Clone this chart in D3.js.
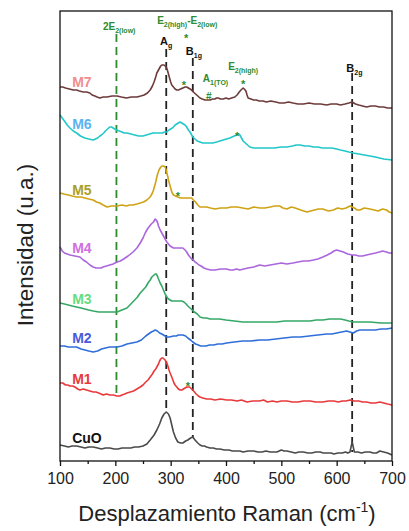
<!DOCTYPE html>
<html><head><meta charset="utf-8">
<script src="https://cdn.jsdelivr.net/npm/d3@7"></script>
<style>body{margin:0;background:#fff}svg{display:block;font-family:"Liberation Sans",Arial,sans-serif}</style>
</head><body><svg id="c" width="409" height="531"></svg>
<script>
// ---- data (wavenumber cm^-1, intensity a.u. incl. offset) ----
const xTicks = [100,200,300,400,500,600,700];
const xMinorTicks = [150,250,350,450,550,650];
const cuo = [[100,16],[108,15],[115,14],[122,15],[130,15],[138,14],[145,13],[152,14],[160,14],[168,13],[175,12],[182,13],[190,13],[198,12],[205,12],[212,13],[220,13],[228,13],[235,14],[242,14],[250,15],[257,17],[263,21],[270,26],[275,31],[280,37],[284,43],[288,47],[292,49],[296,47],[299,43],[302,36],[305,29],[309,23],[313,19],[318,18],[322,18],[327,20],[331,21],[336,23],[340,24],[344,21],[349,18],[353,16],[357,15],[361,15],[365,14],[371,13],[377,13],[383,12],[389,12],[397,11],[405,11],[412,10],[420,10],[425,10],[431,9],[440,10],[450,10],[458,9],[465,9],[472,10],[480,9],[486,9],[492,9],[500,11],[505,10],[510,10],[518,9],[525,8],[532,9],[540,9],[548,8],[555,8],[562,9],[570,9],[576,8],[582,8],[590,8],[595,7],[602,8],[610,8],[616,9],[620,8],[624,9],[628,19],[632,9],[638,9],[645,8],[652,9],[660,9],[666,8],[672,8],[678,10],[685,9],[692,8],[700,6]];
const m1 = [[100,78],[105,78],[110,76],[114,76],[118,75],[123,75],[127,74],[132,72],[136,71],[142,72],[148,71],[154,70],[160,69],[165,69],[170,68],[174,67],[178,66],[184,67],[190,66],[196,66],[203,65],[208,65],[212,66],[217,67],[221,68],[227,69],[233,70],[239,72],[245,74],[250,76],[255,79],[259,81],[263,84],[267,87],[270,90],[273,92],[275,94],[278,97],[280,100],[282,102],[284,103],[286,103],[288,102],[290,101],[293,98],[295,95],[297,91],[299,88],[302,84],[304,81],[306,78],[308,76],[311,74],[314,72],[317,71],[320,71],[323,72],[326,73],[329,74],[331,74],[334,74],[336,73],[338,72],[340,71],[343,69],[346,67],[350,65],[353,64],[358,63],[365,62],[372,62],[380,61],[390,62],[401,61],[410,61],[420,60],[428,61],[438,59],[448,60],[460,60],[468,61],[475,59],[484,60],[492,59],[500,60],[510,60],[520,59],[530,59],[540,60],[552,60],[562,59],[575,59],[585,60],[595,60],[603,59],[610,60],[617,60],[624,61],[632,60],[640,60],[647,59],[654,59],[662,58],[670,58],[678,59],[685,58],[692,57],[700,56]];
const m2 = [[100,115],[108,115],[115,114],[122,114],[130,114],[138,112],[145,111],[152,110],[160,109],[168,110],[175,112],[182,113],[190,114],[196,114],[203,114],[212,115],[221,117],[230,118],[239,119],[247,121],[255,125],[260,127],[265,129],[269,130],[272,131],[276,130],[280,128],[284,127],[287,126],[290,125],[293,124],[298,124],[305,125],[310,125],[314,126],[318,126],[322,126],[327,125],[331,123],[336,121],[340,119],[345,117],[350,116],[354,115],[358,115],[364,115],[370,116],[378,116],[385,117],[393,117],[401,118],[415,119],[430,120],[445,120],[461,121],[475,121],[490,122],[505,123],[521,124],[535,124],[550,125],[566,126],[582,127],[591,127],[600,128],[609,129],[618,130],[624,129],[630,128],[636,130],[642,131],[651,131],[660,131],[670,131],[680,132],[690,132],[700,133]];
const m3 = [[100,158],[108,157],[115,156],[122,155],[130,154],[138,153],[145,152],[152,151],[160,150],[170,149],[180,149],[192,149],[203,149],[212,151],[221,153],[228,157],[235,161],[240,164],[245,168],[250,171],[255,174],[259,178],[263,181],[266,184],[268,185],[270,186],[272,187],[274,187],[276,185],[278,182],[281,178],[284,175],[287,171],[290,167],[293,164],[296,162],[299,161],[302,160],[305,160],[309,160],[313,160],[317,160],[320,160],[324,159],[328,157],[331,155],[335,153],[339,151],[343,149],[348,147],[353,144],[359,143],[365,143],[371,142],[377,142],[388,142],[400,141],[415,140],[431,139],[445,139],[460,139],[476,139],[492,139],[506,140],[520,140],[536,140],[552,140],[563,141],[575,141],[587,142],[600,142],[607,142],[615,141],[622,140],[630,139],[645,139],[660,139],[680,138],[700,138]];
const m4 = [[100,214],[104,210],[108,208],[113,207],[118,206],[127,205],[136,204],[142,201],[148,199],[154,196],[160,194],[165,193],[170,193],[174,193],[178,194],[184,195],[190,196],[196,197],[203,199],[209,200],[215,202],[223,205],[232,209],[239,213],[245,218],[250,223],[254,228],[258,232],[262,235],[265,237],[269,239],[272,242],[274,241],[276,239],[278,235],[281,231],[284,228],[287,225],[290,222],[293,219],[296,217],[299,215],[302,214],[305,213],[309,213],[313,213],[318,213],[322,213],[326,211],[329,209],[332,206],[335,204],[338,202],[341,201],[344,199],[347,198],[351,196],[355,195],[360,193],[365,192],[372,191],[380,191],[390,192],[401,192],[407,191],[413,191],[419,192],[425,191],[432,192],[440,193],[450,194],[461,196],[470,195],[480,196],[490,197],[500,198],[510,197],[521,198],[530,199],[540,200],[549,200],[558,201],[566,202],[575,204],[583,206],[590,208],[595,210],[600,211],[606,210],[612,209],[620,207],[628,206],[634,206],[640,205],[647,205],[654,206],[662,207],[670,208],[677,209],[683,210],[690,209],[695,208],[700,208]];
const m5 = [[100,268],[107,267],[115,266],[122,265],[130,264],[138,264],[145,263],[152,262],[160,261],[166,259],[172,258],[178,256],[185,254],[193,255],[203,255],[212,256],[220,255],[226,256],[232,256],[239,257],[245,258],[251,259],[257,261],[261,263],[264,265],[267,268],[269,271],[271,275],[273,279],[275,284],[277,288],[279,291],[281,293],[284,295],[287,295],[290,294],[292,291],[293,288],[295,284],[296,281],[298,277],[300,273],[302,269],[305,266],[309,265],[313,264],[318,263],[322,263],[326,263],[330,263],[334,263],[338,263],[341,261],[345,259],[349,256],[353,254],[359,254],[365,254],[372,253],[380,252],[390,253],[401,253],[410,254],[420,254],[430,253],[440,252],[450,254],[461,253],[470,253],[480,254],[488,255],[497,255],[503,253],[510,252],[518,254],[525,253],[535,251],[546,249],[553,250],[560,251],[567,252],[575,252],[585,250],[594,251],[602,253],[610,252],[617,253],[624,255],[628,254],[632,253],[637,251],[642,251],[650,253],[660,252],[668,251],[675,250],[683,252],[690,251],[695,249],[700,248]];
const m6 = [[100,346],[104,343],[108,340],[113,336],[118,333],[124,330],[130,328],[137,325],[145,323],[152,322],[160,321],[164,322],[168,323],[172,325],[175,326],[179,328],[182,330],[186,332],[190,334],[193,334],[196,333],[199,332],[203,331],[207,330],[212,329],[216,328],[221,328],[228,327],[235,326],[242,325],[250,325],[256,326],[262,327],[268,328],[275,328],[280,328],[285,328],[289,329],[293,329],[297,331],[300,332],[303,333],[305,334],[308,336],[311,337],[314,338],[317,339],[320,338],[323,337],[326,336],[329,334],[332,331],[335,329],[338,326],[340,324],[344,322],[348,320],[353,319],[358,318],[364,318],[370,318],[376,318],[383,319],[389,320],[395,321],[401,322],[407,323],[411,324],[415,325],[419,326],[422,327],[425,326],[428,323],[431,320],[435,318],[439,316],[443,314],[450,313],[458,313],[466,313],[473,313],[487,313],[500,314],[510,314],[520,315],[527,316],[534,316],[542,315],[550,315],[558,314],[566,314],[574,313],[582,313],[591,313],[600,312],[607,311],[615,310],[622,309],[630,308],[640,307],[650,306],[660,305],[670,304],[685,302],[700,301]];
const m7 = [[100,374],[105,374],[110,373],[117,372],[124,371],[130,371],[135,370],[142,369],[148,369],[154,368],[158,366],[163,365],[167,364],[172,363],[178,364],[185,364],[194,365],[203,365],[211,364],[220,363],[229,364],[239,364],[246,365],[252,366],[258,368],[263,371],[267,375],[270,379],[273,384],[275,388],[278,391],[280,393],[282,395],[284,396],[286,396],[288,396],[290,395],[292,394],[294,391],[296,387],[298,383],[300,379],[302,376],[305,374],[308,372],[311,371],[314,371],[318,372],[322,373],[326,374],[329,374],[332,373],[335,372],[338,371],[341,369],[345,367],[349,365],[353,363],[357,362],[362,361],[366,361],[371,361],[376,362],[380,362],[383,363],[386,363],[390,362],[395,362],[400,363],[405,362],[410,363],[416,364],[420,366],[424,369],[427,371],[429,372],[431,373],[433,372],[436,370],[438,366],[440,363],[445,362],[450,361],[455,361],[460,360],[467,360],[473,359],[481,360],[490,359],[497,358],[505,358],[513,359],[521,358],[530,357],[540,357],[550,358],[560,357],[571,357],[582,356],[590,357],[600,357],[607,356],[615,357],[622,358],[628,359],[634,357],[640,356],[647,355],[654,354],[662,355],[670,355],[677,354],[685,354],[692,353],[700,353]];

const seriesNames = ["CuO","M1","M2","M3","M4","M5","M6","M7"];
const seriesData = [cuo,m1,m2,m3,m4,m5,m6,m7];
const lineColors = ["#4a4a4a","#e8393b","#2f6fd8","#36a866","#aa66dd","#cfa314","#22c7c9","#6e3b3b"];
const labelColors = ["#111111","#e83a3a","#4a5ad8","#66dd80","#d070e0","#aaa028","#5ab4f0","#f08e8e"];
// label anchor (wavenumber, intensity of baseline)
const labelX = [122,122,122,122,122,122,122,122];
const labelY = [18,77,118,157,208,266,332,374];

// vertical assignment lines: wavenumber, top intensity, bottom intensity
const vLinesX = [202, 292, 340, 628];
const vLinesTop = [427, 412, 403, 388];
const vLinesBottom = [64, 49, 24, 9];
const vLinesColor = ["#2e8b2e","#222","#222","#222"];

// band annotations
const annMain = ["2E","E","A","B","E","A","B"];
const annSub = ["2(low)","2(high)","g","1g","2(high)","1(TO)","2g"];
const annTail = [["",""],["-E","2(low)"],["",""],["",""],["",""],["",""],["",""]];
const annX = [207, 330, 292, 342, 431, 381, 632];
const annY = [431, 437, 416, 406, 391, 379, 389];
const annColor = ["#2e8b2e","#2e8b2e","#111","#111","#2e8b2e","#2e8b2e","#111"];
// markers: symbol, wavenumber, intensity
const markSym = ["*","*","#","*","*","*","*"];
const markX = [328, 431, 369, 324, 420, 313, 331];
const markY = [423, 377, 365, 376, 325, 265, 75];

// ---- drawing ----
const svg = d3.select("#c");
const L=60,R=392,T=11,B=461;
const x = d3.scaleLinear().domain([100,700]).range([L,R]);
const y = d3.scaleLinear().domain([0,450]).range([B,T]);

const line = d3.line().x(d=>x(d[0])).y(d=>y(d[1])).curve(d3.curveLinear);

// dashed lines
vLinesX.forEach((w,i)=>{
  svg.append("line").attr("x1",x(w)).attr("x2",x(w))
    .attr("y1",y(vLinesTop[i])).attr("y2",y(vLinesBottom[i]))
    .attr("stroke",vLinesColor[i]).attr("stroke-width",1.8)
    .attr("stroke-dasharray","8,5");
});

seriesData.forEach((d,i)=>{
  svg.append("path").datum(d).attr("d",line).attr("fill","none")
    .attr("stroke",lineColors[i]).attr("stroke-width",1.6).attr("stroke-linejoin","round");
});

seriesNames.forEach((n,i)=>{
  svg.append("text").attr("x",x(labelX[i])).attr("y",y(labelY[i]))
    .attr("font-size",14).attr("font-weight","bold")
    .attr("fill",labelColors[i]).text(n);
});

annMain.forEach((m,i)=>{
  const t = svg.append("text").attr("x",x(annX[i])).attr("y",y(annY[i]))
    .attr("text-anchor","middle").attr("font-weight","bold")
    .attr("font-size",i===2||i===3||i===6?11:10).attr("fill",annColor[i]);
  t.append("tspan").text(m);
  t.append("tspan").attr("font-size",7).attr("dy",3).text(annSub[i]);
  if(annTail[i][0]){
    t.append("tspan").attr("dy",-3).text(annTail[i][0]);
    t.append("tspan").attr("font-size",7).attr("dy",3).text(annTail[i][1]);
  }
});
markSym.forEach((s,i)=>{
  svg.append("text").attr("x",x(markX[i])).attr("y",y(markY[i]))
    .attr("text-anchor","middle").attr("dominant-baseline","central")
    .attr("font-weight","bold").attr("font-size",s==="#"?10:11)
    .attr("fill","#2e8b2e").text(s);
});

// frame
svg.append("rect").attr("x",L).attr("y",T).attr("width",R-L).attr("height",B-T)
  .attr("fill","none").attr("stroke","#111").attr("stroke-width",1.3);

// x axis
const ax = svg.append("g").attr("transform",`translate(0,${B})`)
  .call(d3.axisBottom(x).tickValues(xTicks).tickSize(5).tickFormat(d3.format("d")));
ax.select(".domain").remove();
ax.selectAll("line").attr("stroke","#111").attr("stroke-width",1.3);
ax.selectAll("text").attr("font-size",16).attr("font-family","Liberation Sans, Arial").attr("fill","#222").attr("dy","0.95em");
const axm = svg.append("g").attr("transform",`translate(0,${B})`)
  .call(d3.axisBottom(x).tickValues(xMinorTicks).tickSize(3).tickFormat(""));
axm.select(".domain").remove();
axm.selectAll("line").attr("stroke","#111").attr("stroke-width",1.3);

// axis titles
const xt = svg.append("text").attr("x",(L+R)/2+1).attr("y",521).attr("text-anchor","middle")
  .attr("font-size",22).attr("fill","#222");
xt.append("tspan").text("Desplazamiento Raman (cm");
xt.append("tspan").attr("font-size",14).attr("dy",-9).text("-1");
xt.append("tspan").attr("dy",9).text(")");

svg.append("text").attr("transform",`translate(33,245) rotate(-90)`).attr("text-anchor","middle")
  .attr("font-size",22.5).attr("fill","#222").text("Intensidad (u.a.)");
</script></body></html>
